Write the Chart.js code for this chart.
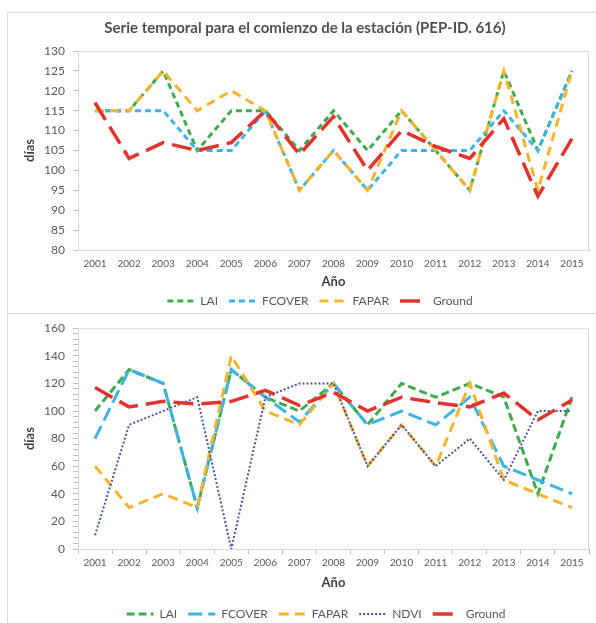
<!DOCTYPE html>
<html>
<head>
<meta charset="utf-8">
<script src="https://cdn.jsdelivr.net/npm/chart.js@4.4.1/dist/chart.umd.min.js"></script>
<style>
  html, body { margin: 0; padding: 0; background: #fff; overflow: hidden; width: 596px; height: 623px; }
  .frame { position: absolute; border: 1px solid #dcdcdc; box-sizing: border-box; }
  #frameTop { left: 7px; top: 12px; width: 620px; height: 302px; }
  #frameBottom { left: 7px; top: 313px; width: 620px; height: 340px; border-top: none; }
  .box { position: absolute; left: 0; }
  #topBox { top: 0; width: 640px; height: 317px; }
  #bottomBox { top: 313px; width: 632px; height: 317px; }
  #title { position: absolute; left: 0; width: 610px; top: 18px; text-align: center;
           font: bold 15px Lato, sans-serif; color: #505050; }
</style>
</head>
<body>
<div class="frame" id="frameTop"></div>
<div class="frame" id="frameBottom"></div>
<div class="box" id="topBox"><canvas id="topChart"></canvas></div>
<div class="box" id="bottomBox"><canvas id="bottomChart"></canvas></div>
<div id="title">Serie temporal para el comienzo de la estación (PEP-ID. 616)</div>

<script>
const years = ['2001', '2002', '2003', '2004', '2005', '2006', '2007', '2008',
               '2009', '2010', '2011', '2012', '2013', '2014', '2015'];

// upper panel
const laiTop    = [115, 115, 125, 105, 115, 115, 105, 115, 105, 115, 105, 95, 125, 105, 125];
const fcoverTop = [115, 115, 115, 105, 105, 115, 95, 105, 95, 105, 105, 105, 115, 105, 125];
const faparTop  = [115, 115, 125, 115, 120, 115, 95, 105, 95, 115, 105, 95, 125, 95, 125];

// lower panel
const laiBottom    = [100, 130, 120, 30, 130, 110, 100, 120, 90, 120, 110, 120, 110, 40, 110];
const fcoverBottom = [80, 130, 120, 30, 130, 110, 92, 120, 90, 100, 90, 110, 60, 50, 40];
const faparBottom  = [60, 30, 40, 30, 140, 100, 90, 120, 60, 90, 60, 120, 50, 40, 30];
const ndviBottom   = [10, 90, 100, 110, 0, 110, 120, 120, 60, 90, 60, 80, 50, 100, 100];

// ground observations, shared by both panels
const ground = [117, 103, 107, 105, 107, 115, 104, 113.5, 100, 110, 106, 103, 113, 93.5, 108];

const topTicks = { min: 80, max: 130, step: 5 };
const bottomTicks = { min: 0, max: 160, step: 4, labelEvery: 20 };

const colors = {
  lai: '#3EAB4C',
  fcover: '#3DB4E6',
  fapar: '#F6B42C',
  ndvi: '#4657A5',
  ground: '#E2342F'
};

Chart.defaults.font.family = 'Lato, sans-serif';
Chart.defaults.color = '#595959';

const axisGrey = '#bfbfbf';
const textDark = '#404040';

// thin box around the plotting area
const plotFrame = {
  id: 'plotFrame',
  beforeDatasetsDraw(chart) {
    const { ctx, chartArea: a } = chart;
    ctx.save();
    ctx.strokeStyle = '#d9d9d9';
    ctx.lineWidth = 1;
    ctx.strokeRect(a.left + 0.5, a.top + 0.5, a.right - a.left - 1, a.bottom - a.top);
    ctx.restore();
  }
};

function series(label, data, color, dash, width, order) {
  return {
    label, data,
    borderColor: color,
    backgroundColor: color,
    borderDash: dash,
    borderWidth: width,
    pointRadius: 0,
    pointHoverRadius: 0,
    tension: 0,
    fill: false,
    order
  };
}

function legendOptions() {
  return {
    position: 'bottom',
    labels: {
      usePointStyle: true,
      pointStyle: 'line',
      pointStyleWidth: 27,
      padding: 11,
      color: '#595959',
      font: { size: 12 },
      sort: (a, b) => a.datasetIndex - b.datasetIndex,
      // legend samples take the dash pattern of the line itself
      generateLabels(chart) {
        const items = Chart.defaults.plugins.legend.labels.generateLabels(chart);
        items.forEach(it => {
          const ds = chart.data.datasets[it.datasetIndex];
          it.lineDash = ds.borderDash;
          it.lineWidth = ds.borderWidth;
          it.strokeStyle = ds.borderColor;
          it.fillStyle = ds.borderColor;
        });
        return items;
      }
    }
  };
}

// invisible right-hand axis, only reserves room so the legend stays centred on the canvas
function spacerAxis(width) {
  return {
    type: 'linear',
    position: 'right',
    display: true,
    grid: { display: false },
    border: { display: false },
    ticks: { display: false },
    afterFit(s) { s.width = width; }
  };
}

new Chart(document.getElementById('topChart'), {
  type: 'line',
  data: {
    labels: years,
    datasets: [
      series('LAI', laiTop, colors.lai, [6, 4], 3, 4),
      series('FCOVER', fcoverTop, colors.fcover, [6, 4], 3, 3),
      series('FAPAR', faparTop, colors.fapar, [9, 6], 3, 2),
      series('Ground', ground, colors.ground, [20, 8], 3.5, 1)
    ]
  },
  options: {
    responsive: true,
    maintainAspectRatio: false,
    animation: false,
    layout: { padding: { top: 51, left: 0, right: 0, bottom: 0 } },
    plugins: {
      legend: legendOptions(),
      tooltip: { enabled: false }
    },
    scales: {
      x: {
        offset: true,
        grid: { display: false, drawTicks: false },
        border: { color: axisGrey },
        ticks: { font: { size: 10 }, padding: 8, maxRotation: 0, autoSkip: false },
        title: { display: true, text: 'Año', color: textDark,
                 font: { size: 13, weight: 'bold' }, padding: { top: 0, bottom: -6 } },
        afterFit(s) { s.height = 34; }
      },
      y: {
        min: topTicks.min,
        max: topTicks.max,
        ticks: { stepSize: topTicks.step, padding: 8, font: { size: 12 }, autoSkip: false },
        grid: { drawOnChartArea: false, drawTicks: true, tickLength: 5, color: axisGrey },
        border: { color: axisGrey },
        title: { display: true, text: 'días', color: textDark,
                 font: { size: 13, weight: 'bold' }, padding: { top: 22, bottom: 0 } },
        afterFit(s) { s.width = 78; }
      },
      spacer: spacerAxis(51)
    }
  },
  plugins: [plotFrame]
});

new Chart(document.getElementById('bottomChart'), {
  type: 'line',
  data: {
    labels: years,
    datasets: [
      series('LAI', laiBottom, colors.lai, [8, 4], 3, 5),
      series('FCOVER', fcoverBottom, colors.fcover, [14, 6], 3, 4),
      series('FAPAR', faparBottom, colors.fapar, [10, 6], 3, 3),
      series('NDVI', ndviBottom, colors.ndvi, [2, 2], 2, 2),
      series('Ground', ground, colors.ground, [20, 8], 3.5, 1)
    ]
  },
  options: {
    responsive: true,
    maintainAspectRatio: false,
    animation: false,
    layout: { padding: { top: 13, left: 0, right: 0, bottom: 0 } },
    plugins: {
      legend: legendOptions(),
      tooltip: { enabled: false }
    },
    scales: {
      x: {
        offset: true,
        grid: { offset: true, drawOnChartArea: false, drawTicks: true, tickLength: 5, color: axisGrey },
        border: { color: axisGrey },
        ticks: { font: { size: 10 }, padding: 3, maxRotation: 0, autoSkip: false },
        title: { display: true, text: 'Año', color: textDark,
                 font: { size: 13, weight: 'bold' }, padding: { top: 0, bottom: 6 } },
        afterFit(s) { s.height = 48; }
      },
      y: {
        min: bottomTicks.min,
        max: bottomTicks.max,
        ticks: {
          stepSize: bottomTicks.step,
          maxTicksLimit: 100,
          autoSkip: false,
          padding: 8,
          font: { size: 12 },
          callback: v => (v % bottomTicks.labelEvery === 0 ? v : '')
        },
        grid: { drawOnChartArea: false, drawTicks: true, tickLength: 5, color: axisGrey },
        border: { color: axisGrey },
        title: { display: true, text: 'días', color: textDark,
                 font: { size: 13, weight: 'bold' }, padding: { top: 22, bottom: 0 } },
        afterFit(s) { s.width = 78; }
      },
      spacer: spacerAxis(43)
    }
  },
  plugins: [plotFrame]
});
</script>
</body>
</html>
